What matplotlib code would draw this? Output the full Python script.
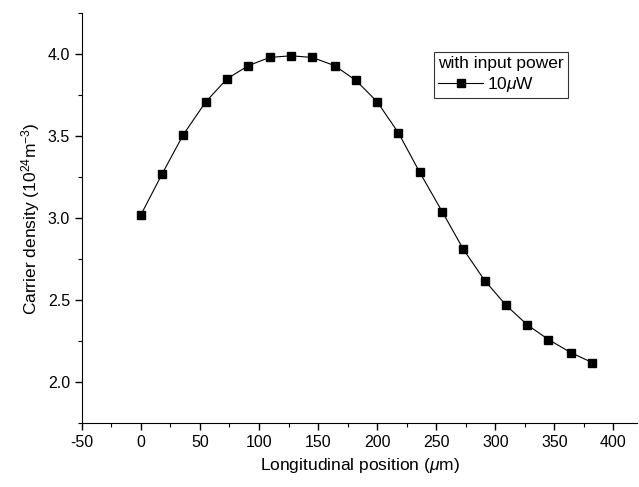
import numpy as np
import matplotlib
matplotlib.use("Agg")
import matplotlib.pyplot as plt
from matplotlib.ticker import MultipleLocator

plt.rcParams['font.family'] = ['Liberation Sans', 'DejaVu Sans']
plt.rcParams['mathtext.fontset'] = 'custom'
plt.rcParams['mathtext.rm'] = 'Liberation Sans'
plt.rcParams['mathtext.it'] = 'Liberation Sans:italic'
plt.rcParams['axes.unicode_minus'] = False

# ---------------- data ----------------
pozicio = [0, 18, 36, 55, 73, 91, 109, 127, 145, 164, 182,
           200, 218, 236, 255, 273, 291, 309, 327, 345, 364, 382]
suruseg = [3.02, 3.27, 3.51, 3.71, 3.85, 3.93, 3.98, 3.99, 3.98, 3.93, 3.84,
           3.71, 3.52, 3.28, 3.04, 2.81, 2.62, 2.47, 2.35, 2.26, 2.18, 2.12]
cimke = '10$\\mu$W'

fig = plt.figure(figsize=(6.39, 4.87), dpi=100)
ax = fig.add_axes([0.128, 0.131, 0.869, 0.842])

ax.plot(pozicio, suruseg, color='black', linewidth=0.8,
        marker='s', markersize=5.5, label=cimke)

ax.set_xlim(-50, 420)
ax.set_ylim(1.75, 4.25)
ax.xaxis.set_major_locator(MultipleLocator(50))
ax.xaxis.set_minor_locator(MultipleLocator(25))
ax.yaxis.set_major_locator(MultipleLocator(0.5))
ax.yaxis.set_minor_locator(MultipleLocator(0.25))
ax.yaxis.set_major_formatter(plt.FormatStrFormatter('%.1f'))

ax.spines['top'].set_visible(False)
ax.spines['right'].set_visible(False)
ax.tick_params(which='major', direction='out', length=5, width=1, labelsize=11.5)
ax.tick_params(which='minor', direction='out', length=3, width=0.8)

ax.set_xlabel('Longitudinal position ($\\mathit{\\mu}$m)', fontsize=12.5)
ax.set_ylabel('Carrier density (10$^{24}$m$^{-3}$)', fontsize=12.5)

leg = ax.legend(title='with input power', loc='upper left',
                bbox_to_anchor=(434 / 639, 1 - 52 / 487),
                bbox_transform=fig.transFigure, fancybox=False,
                edgecolor='black', fontsize=12.5, title_fontsize=12.5,
                handlelength=2.6, borderpad=0.25, handletextpad=0.2,
                borderaxespad=0, labelspacing=0.2)
leg._legend_box.align = 'left'
leg.get_frame().set_linewidth(0.8)

fig.savefig('out.png', dpi=100)
